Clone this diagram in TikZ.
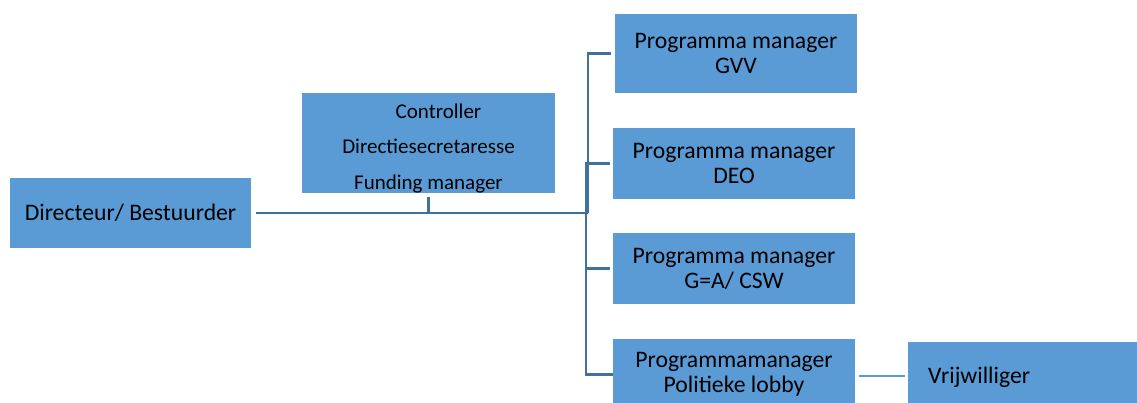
\documentclass[tikz,border=0pt]{standalone}
\usepackage{fontspec}
\setmainfont{Carlito}
\definecolor{boxblue}{HTML}{5B9BD5}
\definecolor{linkblue}{HTML}{41719C}
\begin{document}
\begin{tikzpicture}[x=1pt,y=-1pt,
  box/.style={fill=boxblue,draw=none,inner sep=0pt,align=center,
    font=\fontsize{23.7}{25}\selectfont},
  link/.style={draw=linkblue,line width=2.6pt},
  lightlink/.style={draw=boxblue,line width=2pt}]
\useasboundingbox (0,0) rectangle (1137,403);
\clip (0,0) rectangle (1137,403);
\node[box,minimum width=241pt,minimum height=70pt] (dir) at (130.5,213) {Directeur/ Bestuurder};
\node[box,minimum width=253pt,minimum height=100pt] (ctrl) at (428.5,143) {};
\node[align=center,inner sep=0pt,font=\fontsize{21}{35.5}\selectfont] (ctrltxt) at (428.5,148.5)
  {\hspace*{20pt}Controller\\Directiesecretaresse\\Funding manager};
\node[box,minimum width=242pt,minimum height=79pt] (gvv) at (736,53.5) {Programma manager\\GVV};
\node[box,minimum width=242pt,minimum height=71pt] (deo) at (734,163.5) {Programma manager\\DEO};
\node[box,minimum width=242pt,minimum height=71pt] (gea) at (734,268.5) {Programma manager\\G=A/ CSW};
\node[box,minimum width=242pt,minimum height=71pt] (pol) at (734,374.5) {Programmamanager\\Politieke lobby};
\node[box,anchor=west,minimum height=71pt,inner xsep=20pt,text width=200pt,align=left] (vrij) at (908,377.5) {Vrijwilliger};
\coordinate (j) at (588,213);
\draw[link,shorten <=5pt] (dir.east |- j) -- (j);
\draw[link,shorten <=4pt] (ctrl.south) -- (ctrl.south |- j);
\draw[link,shorten <=4pt] (gvv.west) -| (j);
\draw[link,shorten <=3pt] (deo.west) -- ++(-27,0) |- (pol.west);
\draw[link,shorten <=3pt] (gea.west) -- ++(-27,0);
\draw[lightlink,shorten <=4pt,shorten >=3pt] ([yshift=-1.5pt]pol.east) -- ([yshift=-1.5pt]pol.east -| vrij.west);
\end{tikzpicture}
\end{document}
